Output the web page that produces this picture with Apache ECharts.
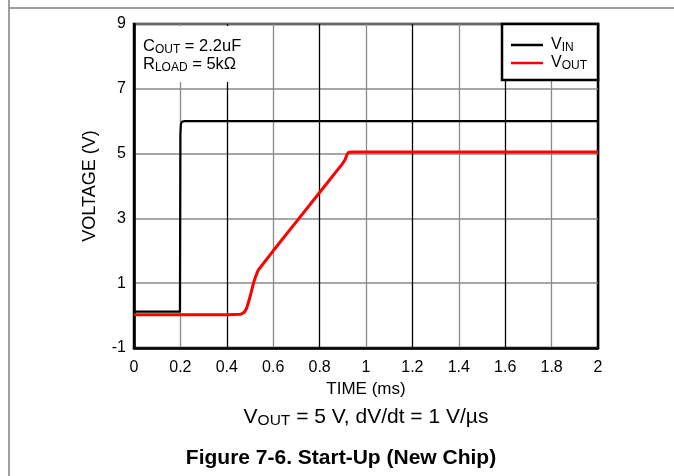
<!DOCTYPE html>
<html>
<head>
<meta charset="utf-8">
<script src="https://cdn.jsdelivr.net/npm/echarts@6/dist/echarts.min.js"></script>
<style>
html,body{margin:0;padding:0;background:#fff;}
#c{width:674px;height:476px;}
</style>
</head>
<body>
<div id="c"></div>
<script>
// ---- data ----
var xTickLabels = ['0','0.2','0.4','0.6','0.8','1','1.2','1.4','1.6','1.8','2'];
var yTickLabels = ['-1','1','3','5','7','9'];

var vinTime  = [0, 0.05, 0.1, 0.15, 0.198, 0.199, 0.2, 0.202, 0.206, 0.215, 0.3, 0.5, 0.8, 1.0, 1.2, 1.5, 1.8, 2.0];
var vinVolts = [0.12, 0.12, 0.12, 0.12, 0.12, 3.0, 5.6, 5.9, 5.98, 6.0, 6.0, 6.0, 6.0, 6.0, 6.0, 6.0, 6.0, 6.0];

var voutTime  = [0, 0.1, 0.2, 0.3, 0.4, 0.46, 0.475, 0.485, 0.495, 0.505, 0.515, 0.525, 0.535, 0.6, 0.7, 0.8, 0.88, 0.9, 0.91, 0.918, 0.925, 0.95, 1.2, 1.5, 1.8, 2.0];
var voutVolts = [0.03, 0.03, 0.03, 0.03, 0.03, 0.04, 0.1, 0.22, 0.45, 0.72, 1.0, 1.22, 1.4, 2.0, 2.9, 3.8, 4.52, 4.7, 4.82, 4.97, 5.04, 5.05, 5.05, 5.05, 5.05, 5.05];

function pairs(xs, ys){ return xs.map(function(x,i){ return [x, ys[i]]; }); }

var FONT = "'Liberation Sans', Arial, sans-serif";
var chart = echarts.init(document.getElementById('c'), null, {renderer:'canvas'});

var option = {
  animation: false,
  backgroundColor: '#fff',
  textStyle: {fontFamily: FONT},
  grid: {left: 134, top: 24, right: 76, bottom: 128, show: true, borderColor: '#000', borderWidth: 2.5, backgroundColor: 'transparent'},
  xAxis: {
    type: 'value', min: 0, max: 2, interval: 0.2,
    name: 'TIME (ms)', nameLocation: 'middle', nameGap: 27,
    nameTextStyle: {fontSize: 17, color: '#000', fontFamily: FONT},
    axisLine: {show: true, onZero: false, lineStyle: {color: '#000', width: 2.5}},
    axisTick: {show: false},
    axisLabel: {fontSize: 16, color: '#000', margin: 12, fontFamily: FONT,
      formatter: function(v, i){ return xTickLabels[i]; }},
    splitLine: {show: true, lineStyle: {color: ['#000', '#8a8a8a'], width: 1.3}}
  },
  yAxis: {
    type: 'value', min: -1, max: 9, interval: 2,
    name: 'VOLTAGE (V)', nameLocation: 'middle', nameGap: 35,
    nameTextStyle: {fontSize: 18, color: '#000', fontFamily: FONT},
    axisLine: {show: true, onZero: false, lineStyle: {color: '#000', width: 2.5}},
    axisTick: {show: false},
    axisLabel: {fontSize: 16, color: '#000', margin: 8, fontFamily: FONT,
      formatter: function(v, i){ return yTickLabels[i]; }},
    splitLine: {show: true, lineStyle: {color: '#8a8a8a', width: 1.5}}
  },
  legend: {
    orient: 'vertical', left: 502, top: 24,
    padding: [13, 11, 8, 9], itemGap: 1,
    itemWidth: 32, itemHeight: 2.5, icon: 'rect',
    backgroundColor: '#fff', borderColor: '#000', borderWidth: 2.5, borderRadius: 0,
    data: ['VIN', 'VOUT'],
    formatter: function(name){ return name === 'VIN' ? '{n|V}{s|IN}' : '{n|V}{s|OUT}'; },
    textStyle: {
      color: '#000', fontFamily: FONT, padding: [0, 0, 0, 3],
      rich: {
        n: {fontSize: 16, lineHeight: 18, verticalAlign: 'middle', fontFamily: FONT, color:'#000'},
        s: {fontSize: 12, lineHeight: 12, verticalAlign: 'bottom', fontFamily: FONT, color:'#000'}
      }
    }
  },
  series: [
    {name: 'VIN', type: 'line', data: pairs(vinTime, vinVolts), showSymbol: false, symbol: 'none',
     lineStyle: {color: '#000', width: 2.2}, itemStyle: {color: '#000'}, z: 3},
    {name: 'VOUT', type: 'line', data: pairs(voutTime, voutVolts), showSymbol: false, symbol: 'none',
     lineStyle: {color: '#ff0000', width: 3}, itemStyle: {color: '#ff0000'}, z: 4}
  ],
  graphic: [
    {type: 'line', shape: {x1: 9, y1: 8, x2: 674, y2: 8}, style: {stroke: '#7f7f7f', lineWidth: 1.5}, z: 0},
    {type: 'line', shape: {x1: 9, y1: 0, x2: 9, y2: 476}, style: {stroke: '#7f7f7f', lineWidth: 1.5}, z: 0},
    {type: 'rect', shape: {x: 136, y: 26, width: 136, height: 56}, style: {fill: '#fff'}, z: 10},
    {type: 'text', left: 143, top: 38, z: 11, style: {
      text: '{n|C}{s|OUT}{n| = 2.2uF}\n{n|R}{s|LOAD}{n| = 5kΩ}',
      fill: '#000', font: '16px ' + FONT,
      rich: {
        n: {fontSize: 16.5, lineHeight: 18, verticalAlign: 'middle', fontFamily: FONT},
        s: {fontSize: 12, lineHeight: 12, verticalAlign: 'bottom', fontFamily: FONT}
      }}},
    {type: 'text', z: 11, style: {
      x: 366, y: 417, align: 'center', verticalAlign: 'middle',
      text: '{n|V}{s|OUT}{n| = 5 V, dV/dt = 1 V/µs}',
      fill: '#000',
      rich: {
        n: {fontSize: 21, lineHeight: 24, verticalAlign: 'middle', fontFamily: FONT},
        s: {fontSize: 15.5, lineHeight: 15, verticalAlign: 'bottom', fontFamily: FONT}
      }}},
    {type: 'text', z: 11, style: {
      x: 341, y: 458, align: 'center', verticalAlign: 'middle',
      text: 'Figure 7-6. Start-Up (New Chip)',
      fill: '#000', font: 'bold 21px ' + FONT}}
  ]
};
chart.setOption(option);
</script>
</body>
</html>
